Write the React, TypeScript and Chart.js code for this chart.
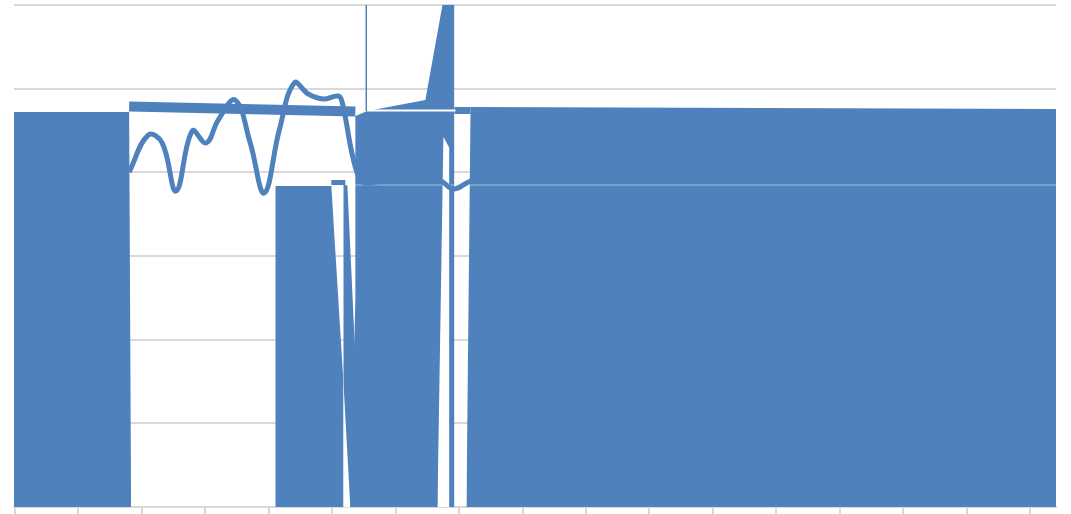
import React, { useEffect, useRef } from 'react';
import { Chart, registerables } from 'chart.js';

Chart.register(...registerables);

const BLUE = '#4f81bd';
const WHITE = '#ffffff';
const GRID = '#d9d9d9';

// x values are in axis-tick units (ticks 0..16), y values in gridline units (0..6)
const xTicks = [0, 1, 2, 3, 4, 5, 6, 7, 8, 9, 10, 11, 12, 13, 14, 15, 16];
const yTicks = [0, 1, 2, 3, 4, 5, 6];

const leftBlock = [
  { x: -0.016, y: 4.721 },
  { x: 1.799, y: 4.721 },
  { x: 1.83, y: 0 },
];
const midLeftBlock = [
  { x: 4.103, y: 3.837 },
  { x: 4.986, y: 3.837 },
  { x: 5.175, y: 1.518 },
  { x: 5.175, y: 0 },
];
const slimBar = [
  { x: 5.175, y: 3.849 },
  { x: 5.239, y: 3.849 },
  { x: 5.396, y: 1.279 },
  { x: 5.396, y: 0 },
];
const capBar = [
  { x: 4.986, y: 3.878 },
  { x: 5.207, y: 3.878 },
];
const centerBlock = [
  { x: 5.286, y: 0 },
  { x: 5.365, y: 2.474 },
  { x: 5.365, y: 4.673 },
  { x: 5.554, y: 4.733 },
  { x: 6.469, y: 4.865 },
  { x: 6.738, y: 6.0 },
  { x: 6.927, y: 6.0 },
  { x: 6.927, y: 0 },
];
const rightBlock = [
  { x: 7.116, y: 0 },
  { x: 7.18, y: 4.697 },
  { x: 7.18, y: 4.781 },
  { x: 16.442, y: 4.757 },
];
const ledge = [
  { x: 6.927, y: 4.739 },
  { x: 7.18, y: 4.739 },
];
const gapWedge = [
  { x: 6.659, y: 0 },
  { x: 6.753, y: 4.422 },
  { x: 6.848, y: 4.291 },
  { x: 6.848, y: 0 },
];
const gapSliver = [
  { x: 5.175, y: 1.518 },
  { x: 5.286, y: 0 },
];
const whiteRule = [
  { x: 5.554, y: 4.739 },
  { x: 6.943, y: 4.739 },
];
const hairline = [
  { x: 5.538, y: 6.0 },
  { x: 5.538, y: 4.733 },
];
const paleRule = [
  { x: 5.207, y: 3.849 },
  { x: 16.442, y: 3.849 },
];
const band = [
  { x: 1.799, y: 4.787 },
  { x: 5.365, y: 4.727 },
];
const curveX = [1.799, 2.099, 2.32, 2.54, 2.793, 3.014, 3.203, 3.471, 3.708, 3.929, 4.166, 4.402, 4.623, 4.86, 5.097, 5.16, 5.365, 5.522, 6.075, 6.706, 6.911, 7.18, 7.416];
const curveY = [4.004, 4.446, 4.351, 3.777, 4.494, 4.351, 4.625, 4.865, 4.351, 3.753, 4.506, 5.068, 4.936, 4.876, 4.912, 4.83, 4.064, 3.873, 3.956, 3.896, 3.801, 3.896, 3.932];

function area(data: any[], color: string) {
  return {
    type: 'line' as const,
    data,
    borderWidth: 0,
    borderColor: 'rgba(0,0,0,0)',
    backgroundColor: color,
    fill: 'origin',
    pointRadius: 0,
    tension: 0,
  };
}

function stroke(data: any[], color: string, width: number, tension = 0) {
  return {
    type: 'line' as const,
    data,
    borderWidth: width,
    borderColor: color,
    backgroundColor: color,
    fill: false,
    pointRadius: 0,
    tension,
    borderCapStyle: 'butt',
  };
}

export default function App() {
  const ref = useRef<HTMLCanvasElement | null>(null);

  useEffect(() => {
    if (!ref.current) return;
    const curve = curveX.map((x, i) => ({ x, y: curveY[i] }));
    const bottomFirst: any[] = [
      area(leftBlock, BLUE),
      area(midLeftBlock, BLUE),
      area(slimBar, BLUE),
      stroke(capBar, BLUE, 5),
      area(centerBlock, BLUE),
      area(rightBlock, BLUE),
      stroke(ledge, BLUE, 7),
      area(gapWedge, WHITE),
      area(gapSliver, WHITE),
      stroke(whiteRule, WHITE, 2),
      stroke(hairline, BLUE, 1),
      stroke(paleRule, 'rgba(255,255,255,0.32)', 1.5),
      stroke(band, BLUE, 10),
      stroke(curve, BLUE, 5, 0.4),
    ];
    const datasets = bottomFirst.map((d, i) => ({ ...d, order: bottomFirst.length - i }));

    const chart = new Chart(ref.current, {
      type: 'line',
      data: { datasets },
      options: {
        animation: false,
        responsive: true,
        maintainAspectRatio: false,
        layout: { padding: { left: 14, right: 15, top: 5, bottom: 0 } },
        plugins: {
          legend: { display: false },
          title: { display: false },
          tooltip: { enabled: false },
        },
        scales: {
          x: {
            type: 'linear',
            min: -0.016,
            max: 16.41,
            afterBuildTicks: (s: any) => {
              s.ticks = xTicks.map((v) => ({ value: v }));
            },
            ticks: { display: false },
            grid: {
              drawOnChartArea: false,
              drawTicks: true,
              tickLength: 7,
              color: GRID,
              lineWidth: 2,
            },
            border: { display: true, color: GRID, width: 2 },
          },
          y: {
            type: 'linear',
            min: 0,
            max: 6,
            afterBuildTicks: (s: any) => {
              s.ticks = yTicks.map((v) => ({ value: v }));
            },
            ticks: { display: false },
            grid: { color: GRID, lineWidth: 2, drawTicks: false },
            border: { display: false },
          },
        },
      } as any,
    });
    return () => chart.destroy();
  }, []);

  return (
    <div style={{ position: 'fixed', left: 0, top: 0, width: 1071, height: 514, background: '#fff' }}>
      <canvas ref={ref} />
    </div>
  );
}
